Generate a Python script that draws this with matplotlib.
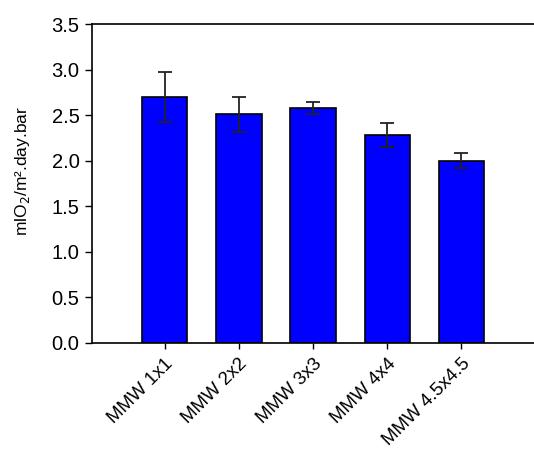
import matplotlib
matplotlib.use("Agg")
import matplotlib.pyplot as plt
import numpy as np

plt.rcParams["font.family"] = ["Liberation Sans", "DejaVu Sans"]

labels = ["MMW 1x1", "MMW 2x2", "MMW 3x3", "MMW 4x4", "MMW 4.5x4.5"]
values = [2.70, 2.51, 2.58, 2.28, 2.00]
errors = [0.27, 0.19, 0.065, 0.13, 0.08]

fig = plt.figure(figsize=(5.34, 4.57), dpi=100)
ax = fig.add_axes([92 / 534, 1 - 343 / 457, 1 - 92 / 534 + 0.01, (343 - 24) / 457])

x = np.arange(len(labels))
ax.bar(x, values, width=0.61, color="#0000FF", edgecolor="black", linewidth=1.2, zorder=2)
ax.errorbar(x, values, yerr=errors, fmt="none", ecolor="#222222", elinewidth=1.3,
            capsize=5, capthick=1.3, zorder=3)

ax.set_ylim(0, 3.5)
ax.set_xlim(-0.98, 5.05)
ax.set_yticks(np.arange(0, 3.51, 0.5))
ax.set_yticklabels([f"{v:.1f}" for v in np.arange(0, 3.51, 0.5)], fontsize=14.5)
ax.set_xticks(x)
ax.set_xticklabels(labels, rotation=45, ha="right", rotation_mode="anchor", fontsize=13.5)
ax.tick_params(axis="y", direction="out", length=5, width=1, pad=4)
ax.tick_params(axis="x", direction="out", length=4, width=1, pad=5)
ax.set_ylabel("mlO$_2$/m².day.bar", fontsize=12.5)
ax.yaxis.set_label_coords(-0.135, 0.54)
for s in ["left", "bottom", "top"]:
    ax.spines[s].set_linewidth(1.2)
ax.spines["right"].set_visible(False)

fig.savefig("out.png", dpi=100)
